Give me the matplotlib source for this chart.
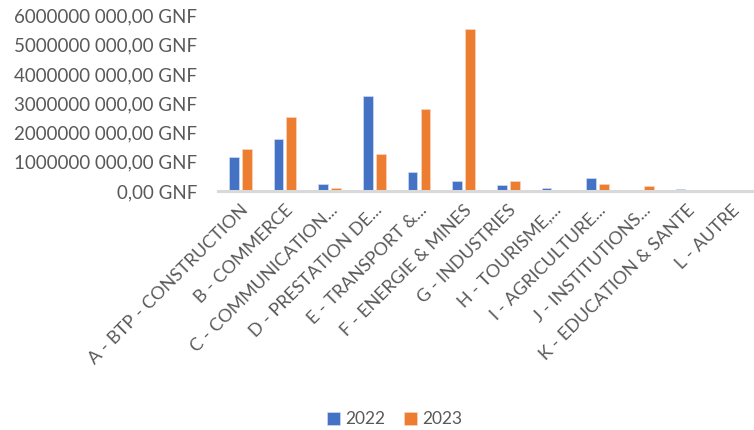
import numpy as np
import matplotlib.pyplot as plt
from matplotlib.ticker import FuncFormatter

secteurs = ['A - BTP - CONSTRUCTION', 'B - COMMERCE', 'C - COMMUNICATION...',
            'D - PRESTATION DE...', 'E - TRANSPORT &...', 'F - ENERGIE & MINES',
            'G - INDUSTRIES', 'H - TOURISME,...', 'I - AGRICULTURE...',
            'J - INSTITUTIONS...', 'K - EDUCATION & SANTE', 'L - AUTRE']
montants_2022 = [1.16e9, 1.79e9, 0.23e9, 3.25e9, 0.64e9, 0.35e9,
                 0.19e9, 0.10e9, 0.44e9, 0.0, 0.06e9, 0.0]
montants_2023 = [1.45e9, 2.54e9, 0.10e9, 1.27e9, 2.79e9, 5.53e9,
                 0.35e9, 0.0, 0.25e9, 0.16e9, 0.0, 0.0]
annees = ['2022', '2023']

plt.rcParams['font.family'] = ['Lato', 'DejaVu Sans']
gris = '#595959'

def gnf(v, pos):
    v = int(round(v))
    if v == 0:
        return '0,00 GNF'
    return f'{v // 1000} {v % 1000:03d},00 GNF'

fig = plt.figure(figsize=(7.54, 4.30), dpi=100)
ax = fig.add_axes([0.289, 0.556, 0.711, 0.408])

x = np.arange(len(secteurs))
w = 0.22
ax.bar(x - 0.145, montants_2022, w, color='#4472C4', label=annees[0],
       edgecolor='#dbe3f3', linewidth=0.4)
ax.bar(x + 0.145, montants_2023, w, color='#ED7D31', label=annees[1],
       edgecolor='#fbdcc8', linewidth=0.4)

ax.set_ylim(0, 6e9)
ax.set_xlim(-0.5, len(secteurs) - 0.5)
ax.set_yticks(np.arange(0, 6.1e9, 1e9))
ax.yaxis.set_major_formatter(FuncFormatter(gnf))
ax.set_xticks(x)
ax.set_xticklabels(secteurs, rotation=45, ha='right', rotation_mode='anchor')

for s in ['top', 'right', 'left']:
    ax.spines[s].set_visible(False)
ax.spines['bottom'].set_color('#D9D9D9')
ax.spines['bottom'].set_linewidth(2.2)
ax.tick_params(axis='both', length=0, colors=gris)
ax.tick_params(axis='y', labelsize=13.5, pad=15)
ax.tick_params(axis='x', labelsize=13, pad=8)

fig.legend(loc='center', bbox_to_anchor=(0.523, 0.025), ncol=2, frameon=False,
           fontsize=12.5, labelcolor=gris, handlelength=0.75, handleheight=0.75,
           handletextpad=0.3, columnspacing=1.1)

plt.savefig('out.png', dpi=100)
